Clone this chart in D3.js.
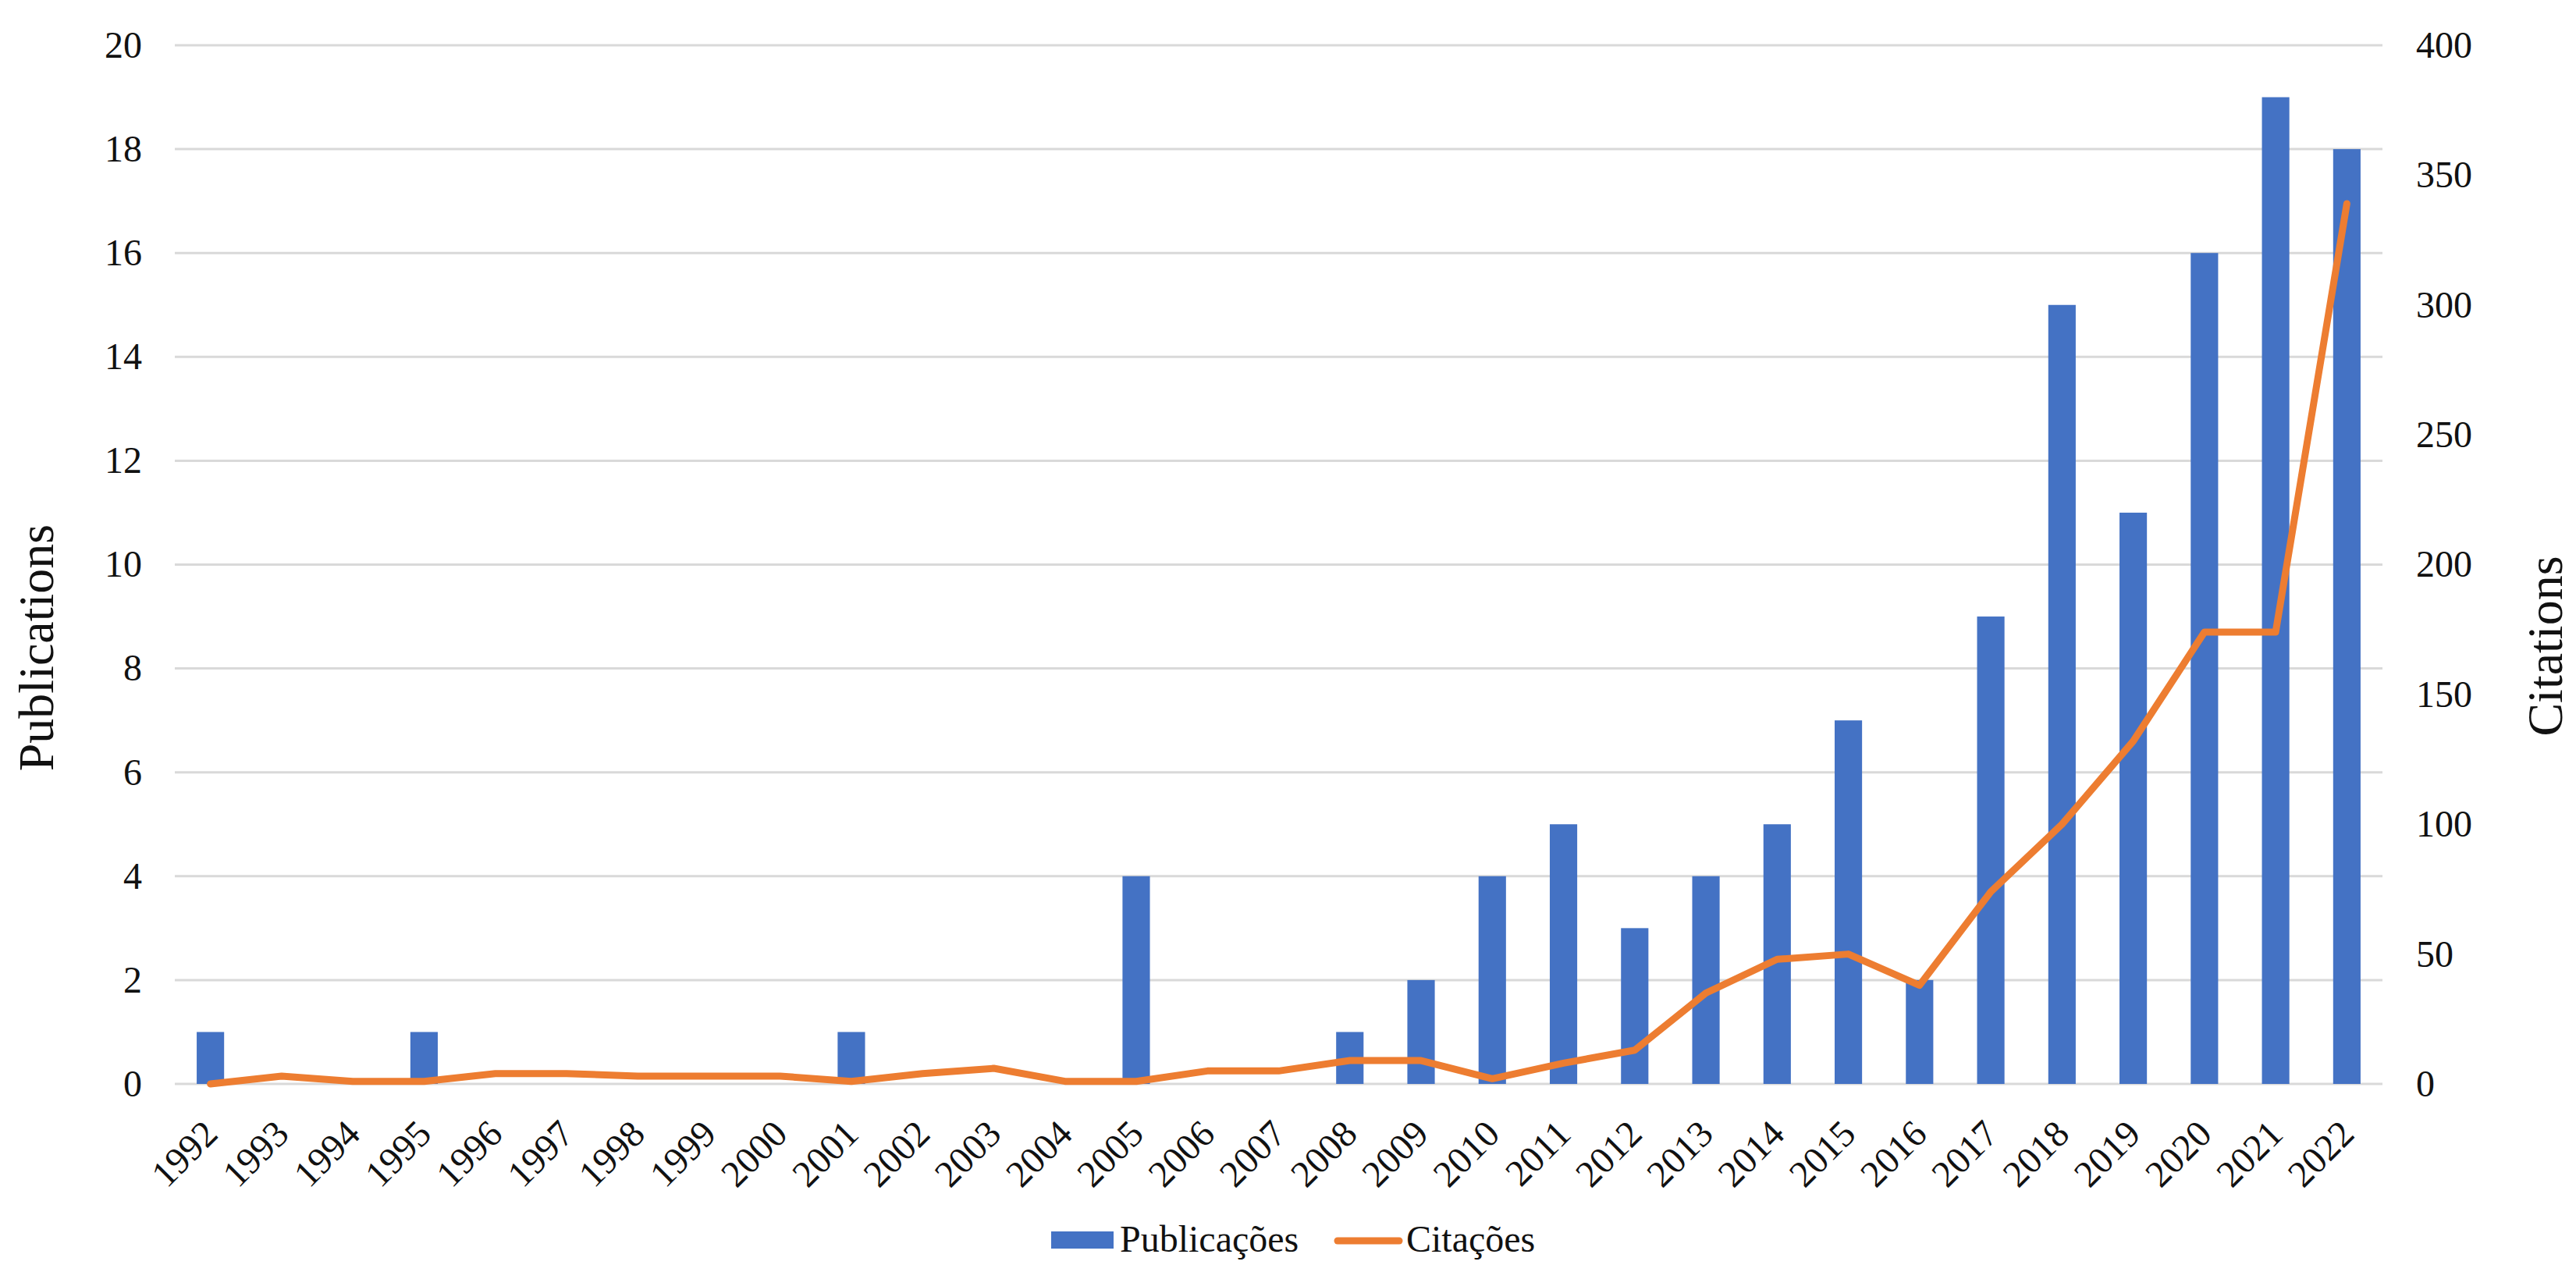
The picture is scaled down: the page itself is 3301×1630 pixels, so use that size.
<!DOCTYPE html>
<html>
<head>
<meta charset="utf-8">
<script src="https://cdn.jsdelivr.net/npm/d3@7"></script>
<style>
  html, body { margin: 0; padding: 0; background: #ffffff; }
  svg { display: block; }
  text { font-family: "Liberation Serif", "Times New Roman", serif; fill: #111; }
</style>
</head>
<body>
<svg id="chart" width="3301" height="1630"></svg>
<script>
const years = ["1992","1993","1994","1995","1996","1997","1998","1999","2000","2001",
  "2002","2003","2004","2005","2006","2007","2008","2009","2010","2011",
  "2012","2013","2014","2015","2016","2017","2018","2019","2020","2021","2022"];
const publications = [1,0,0,1,0,0,0,0,0,1, 0,0,0,4,0,0,1,2,4,5, 3,4,5,7,2,9,15,11,16,19,18];
const citations = [0,3,1,1,4,4,3,3,3,1, 4,6,1,1,5,5,9,9,2,8, 13,35,48,50,38,74,100,132,174,174,339];
const leftTicks = [0,2,4,6,8,10,12,14,16,18,20];
const rightTicks = [0,50,100,150,200,250,300,350,400];
const seriesNames = ["Publicações", "Citações"];
const axisTitles = ["Publications", "Citations"];

const W = 3301, H = 1630;
const plot = { left: 224, right: 3053, top: 58, bottom: 1389 };
const barColor = "#4472C4", lineColor = "#ED7D31", gridColor = "#d9d9d9";
const fontSize = 48, titleSize = 64;

const svg = d3.select("#chart");
svg.append("rect").attr("width", W).attr("height", H).attr("fill", "#fff");

const x = d3.scaleBand().domain(years).range([plot.left, plot.right])
  .paddingInner(0.615).paddingOuter(0.3075);
const yL = d3.scaleLinear().domain([0, 20]).range([plot.bottom, plot.top]);
const yR = d3.scaleLinear().domain([0, 400]).range([plot.bottom, plot.top]);

// gridlines
svg.append("g").selectAll("line").data(leftTicks).join("line")
  .attr("x1", plot.left).attr("x2", plot.right)
  .attr("y1", d => yL(d)).attr("y2", d => yL(d))
  .attr("stroke", gridColor).attr("stroke-width", 3);

// left axis
const gL = svg.append("g").attr("transform", `translate(${plot.left},0)`)
  .call(d3.axisLeft(yL).tickValues(leftTicks).tickSize(0).tickPadding(42));
gL.select(".domain").remove();
gL.selectAll("text").style("font-size", fontSize + "px")
  .style("font-family", '"Liberation Serif", serif').attr("fill", "#111");

// right axis
const gR = svg.append("g").attr("transform", `translate(${plot.right},0)`)
  .call(d3.axisRight(yR).tickValues(rightTicks).tickSize(0).tickPadding(43));
gR.select(".domain").remove();
gR.selectAll("text").style("font-size", fontSize + "px")
  .style("font-family", '"Liberation Serif", serif').attr("fill", "#111");

// bars
svg.append("g").selectAll("rect").data(years).join("rect")
  .attr("x", d => x(d))
  .attr("width", x.bandwidth())
  .attr("y", (d, i) => yL(publications[i]))
  .attr("height", (d, i) => yL(0) - yL(publications[i]))
  .attr("fill", barColor);

// line
const line = d3.line()
  .x((d, i) => x(years[i]) + x.bandwidth() / 2)
  .y(d => yR(d));
svg.append("path").datum(citations)
  .attr("d", line)
  .attr("fill", "none")
  .attr("stroke", lineColor)
  .attr("stroke-width", 9)
  .attr("stroke-linejoin", "round")
  .attr("stroke-linecap", "round");

// x labels
svg.append("g").selectAll("text").data(years).join("text")
  .attr("transform", d => `translate(${x(d) + x.bandwidth() / 2},${plot.bottom + 55}) rotate(-45)`)
  .attr("text-anchor", "end")
  .attr("dy", "0.35em")
  .style("font-size", fontSize + "px")
  .text(d => d);

// axis titles
svg.append("text")
  .attr("transform", `translate(68,830) rotate(-90)`)
  .attr("text-anchor", "middle")
  .style("font-size", titleSize + "px")
  .text(axisTitles[0]);
svg.append("text")
  .attr("transform", `translate(3283,828) rotate(-90)`)
  .attr("text-anchor", "middle")
  .style("font-size", titleSize + "px")
  .text(axisTitles[1]);

// legend
const lg = svg.append("g");
lg.append("rect").attr("x", 1347).attr("y", 1578).attr("width", 80).attr("height", 22).attr("fill", barColor);
lg.append("text").attr("x", 1435).attr("y", 1604).style("font-size", fontSize + "px").text(seriesNames[0]);
lg.append("line").attr("x1", 1714).attr("x2", 1793).attr("y1", 1590).attr("y2", 1590)
  .attr("stroke", lineColor).attr("stroke-width", 9).attr("stroke-linecap", "round");
lg.append("text").attr("x", 1802).attr("y", 1604).style("font-size", fontSize + "px").text(seriesNames[1]);
</script>
</body>
</html>
